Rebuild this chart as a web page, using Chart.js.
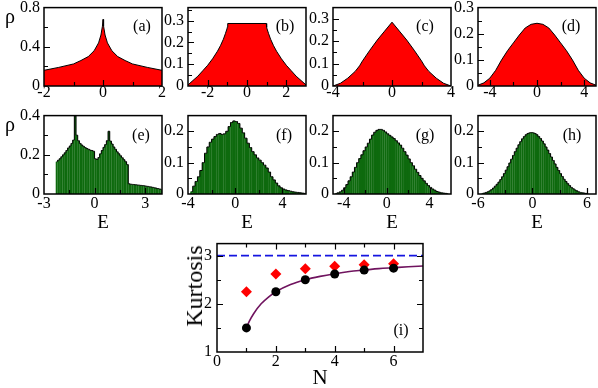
<!DOCTYPE html>
<html><head><meta charset="utf-8">
<script src="https://cdn.jsdelivr.net/npm/chart.js@4/dist/chart.umd.min.js"></script>
<style>
html,body{margin:0;padding:0;background:#fff;width:598px;height:388px;overflow:hidden;position:relative;font-family:"Liberation Serif",serif;color:#000}
.pc{position:absolute}
.t{position:absolute;transform:translate(-50%,-50%);white-space:nowrap;line-height:1;font-family:"Liberation Serif",serif}
</style></head><body>
<script>
// ---------- DATA ----------
// (a)
const aE   = [-2,-1.5,-1,-0.75,-0.5,-0.3,-0.15,-0.07,-0.02,0,0.02,0.07,0.15,0.3,0.5,0.75,1,1.5,2];
const aRho = [0.16,0.19,0.225,0.26,0.30,0.36,0.44,0.52,0.61,0.68,0.61,0.52,0.44,0.36,0.30,0.26,0.225,0.19,0.16];
// (b)
const bE   = [-3,-2.75,-2.5,-2.25,-2,-1.75,-1.5,-1.35,-1.2,-1.1,-1.02,-1.0,-0.98,0,0.98,1.0,1.02,1.1,1.2,1.35,1.5,1.75,2,2.25,2.5,2.75,3];
const bRho = [0.005,0.025,0.045,0.07,0.095,0.125,0.16,0.185,0.215,0.24,0.262,0.27,0.287,0.287,0.287,0.27,0.262,0.24,0.215,0.185,0.16,0.125,0.095,0.07,0.045,0.025,0.005];
// (c)
const cE   = [-4,-3.5,-3,-2.5,-2.2,-2,-1.5,-1,-0.5,0,0.5,1,1.5,2,2.2,2.5,3,3.5,4];
const cRho = [0,0.012,0.035,0.065,0.09,0.112,0.16,0.205,0.245,0.285,0.245,0.205,0.16,0.112,0.09,0.065,0.035,0.012,0];
// (d)
const dE   = [-5,-4.5,-4,-3.5,-3,-2.5,-2,-1.5,-1,-0.5,0,0.5,1,1.5,2,2.5,3,3.5,4,4.5,5];
const dRho = [0.003,0.012,0.03,0.06,0.1,0.135,0.165,0.195,0.222,0.236,0.24,0.236,0.222,0.195,0.165,0.135,0.1,0.06,0.03,0.012,0.003];
// (e) histogram
const eE = [-2.25,-2.15,-2.05,-1.95,-1.85,-1.75,-1.65,-1.55,-1.45,-1.35,-1.25,-1.15,-1.05,-0.95,-0.85,-0.75,-0.65,-0.55,-0.45,-0.35,-0.25,-0.15,-0.05,
  0.05,0.15,0.25,0.35,0.45,0.55,0.65,0.75,0.85,0.95,1.05,1.15,1.25,1.35,1.45,1.55,1.65,1.75,1.85,1.95,
  2.05,2.15,2.25,2.35,2.45,2.55,2.65,2.75,2.85,2.95,3.05,3.15,3.25,3.35,3.45,3.55,3.65,3.75,3.85,3.95];
const eRho = [0.165,0.172,0.18,0.19,0.2,0.21,0.222,0.235,0.245,0.258,0.275,0.4,0.3,0.272,0.258,0.25,0.243,0.237,0.232,0.228,0.224,0.222,0.218,
  0.18,0.176,0.186,0.205,0.222,0.238,0.252,0.272,0.32,0.27,0.255,0.24,0.228,0.215,0.205,0.195,0.185,0.175,0.165,0.15,
  0.052,0.05,0.049,0.048,0.047,0.046,0.045,0.044,0.043,0.042,0.04,0.039,0.037,0.036,0.034,0.032,0.03,0.028,0.026,0.024];
// (f) histogram
const fE = [-3.7,-3.5,-3.3,-3.1,-2.9,-2.7,-2.5,-2.3,-2.1,-1.9,-1.7,-1.5,-1.3,-1.1,-0.9,-0.7,-0.5,-0.3,-0.1,
  0.1,0.3,0.5,0.7,0.9,1.1,1.3,1.5,1.7,1.9,2.1,2.3,2.5,2.7,2.9,3.1,3.3,3.5,3.7,3.9,4.1,4.3,4.5,4.7,4.9,5.1,5.3,5.5,5.7,5.9];
const fRho = [0.008,0.025,0.04,0.055,0.075,0.1,0.13,0.15,0.165,0.175,0.183,0.19,0.193,0.19,0.192,0.2,0.215,0.228,0.233,
  0.231,0.225,0.21,0.195,0.178,0.162,0.148,0.135,0.125,0.115,0.108,0.1,0.092,0.083,0.07,0.055,0.045,0.035,0.026,0.02,0.016,0.013,0.011,0.009,0.007,0.006,0.005,0.004,0.003,0.002];
// (g) histogram
const gE = [-4.7,-4.5,-4.3,-4.1,-3.9,-3.7,-3.5,-3.3,-3.1,-2.9,-2.7,-2.5,-2.3,-2.1,-1.9,-1.7,-1.5,-1.3,-1.1,-0.9,-0.7,-0.5,-0.3,-0.1,
  0.1,0.3,0.5,0.7,0.9,1.1,1.3,1.5,1.7,1.9,2.1,2.3,2.5,2.7,2.9,3.1,3.3,3.5,3.7,3.9,4.1,4.3,4.5,4.7,4.9,5.1,5.3,5.5,5.7];
const gRho = [0.002,0.004,0.007,0.012,0.02,0.03,0.042,0.055,0.07,0.085,0.1,0.113,0.125,0.138,0.15,0.162,0.175,0.188,0.197,0.203,0.206,0.206,0.203,0.198,
  0.192,0.187,0.182,0.177,0.17,0.163,0.156,0.146,0.135,0.124,0.112,0.1,0.09,0.079,0.069,0.059,0.05,0.042,0.034,0.027,0.021,0.016,0.012,0.008,0.006,0.004,0.003,0.002,0.001];
// (h) histogram
const hE = [-5.5,-5.3,-5.1,-4.9,-4.7,-4.5,-4.3,-4.1,-3.9,-3.7,-3.5,-3.3,-3.1,-2.9,-2.7,-2.5,-2.3,-2.1,-1.9,-1.7,-1.5,-1.3,-1.1,-0.9,-0.7,-0.5,-0.3,-0.1,
  0.1,0.3,0.5,0.7,0.9,1.1,1.3,1.5,1.7,1.9,2.1,2.3,2.5,2.7,2.9,3.1,3.3,3.5,3.7,3.9,4.1,4.3,4.5,4.7,4.9,5.1,5.3,5.5,5.7,5.9,6.1];
const hRho = [0.002,0.003,0.005,0.007,0.01,0.014,0.019,0.025,0.031,0.038,0.046,0.055,0.065,0.076,0.087,0.099,0.111,0.123,0.135,0.146,0.157,0.167,0.176,0.183,0.189,0.193,0.195,0.196,
  0.195,0.193,0.189,0.183,0.177,0.169,0.16,0.15,0.14,0.129,0.118,0.107,0.096,0.085,0.075,0.065,0.056,0.047,0.04,0.033,0.027,0.021,0.017,0.013,0.01,0.007,0.005,0.004,0.003,0.002,0.001];
// (i) kurtosis
const iN = [1,2,3,4,5,6];
const iKurtRed = [2.25,2.62,2.73,2.78,2.81,2.83];
const iKurtBlack = [1.5,2.25,2.5,2.62,2.7,2.74];
const iFitN = [1,1.1,1.25,1.5,1.75,2,2.5,3,3.5,4,4.5,5,5.5,6,6.5,7];
const iFitK = [1.5,1.64,1.8,2.0,2.14,2.25,2.4,2.5,2.57,2.625,2.67,2.7,2.73,2.75,2.77,2.786];
const iGaussN = [0,7];
const iGaussK = [3,3];

// tick values / labels
const aXT=[-2,-1,0,1,2], aXL=[-2,0,2], aYT=[0,0.2,0.4,0.6,0.8], aYL=[0,0.4,0.8];
const bXT=[-3,-2,-1,0,1,2,3], bXL=[-2,0,2], bYT=[0,0.05,0.1,0.15,0.2,0.25,0.3,0.35], bYL=[0,0.1,0.2,0.3];
const cXT=[-4,-2,0,2,4], cXL=[-4,0,4], cYT=bYT, cYL=bYL;
const dXT=[-4,-2,0,2,4], dXL=[-4,0,4], dYT=[0,0.05,0.1,0.15,0.2,0.25,0.3], dYL=[0,0.1,0.2,0.3];
const eXT=[-3,-1.5,0,1.5,3], eXL=[-3,0,3], eYT=[0,0.1,0.2,0.3,0.4], eYL=[0,0.2,0.4];
const fXT=[-4,-2,0,2,4,6], fXL=[-4,0,4], fYT=[0,0.05,0.1,0.15,0.2,0.25], fYL=[0,0.1,0.2];
const gXT=[-4,-2,0,2,4], gXL=[-4,0,4], gYT=fYT, gYL=fYL;
const hXT=[-6,-3,0,3,6], hXL=[-6,0,6], hYT=fYT, hYL=fYL;
const iXT=[0,1,2,3,4,5,6,7], iXL=[0,2,4,6], iYT=[1,1.5,2,2.5,3], iYL=[1,2,3];

// ---------- DRAWING ----------
Chart.defaults.font.family = '"Liberation Serif", serif';
Chart.defaults.font.size = 16;
Chart.defaults.color = '#000';

const PADL=50, PADT=12, PADR=14, PADB=30;
const near=(a,b)=>Math.abs(a-b)<1e-9;

const boxTicks = {
  id:'boxTicks',
  afterDatasetsDraw(chart, args, opts){
    const {ctx, chartArea:a, scales:{x:X, y:Y}} = chart;
    ctx.save();
    ctx.strokeStyle='#000'; ctx.lineWidth=1.2;
    ctx.beginPath();
    X.ticks.forEach(t=>{
      if (near(t.value,X.min)||near(t.value,X.max)) return;
      const p=Math.round(X.getPixelForValue(t.value))+0.5;
      const len=opts.xl.some(v=>near(v,t.value))?6:4;
      ctx.moveTo(p,a.bottom); ctx.lineTo(p,a.bottom-len);
      if (opts.mirror){ ctx.moveTo(p,a.top); ctx.lineTo(p,a.top+len); }
    });
    Y.ticks.forEach(t=>{
      if (near(t.value,Y.min)||near(t.value,Y.max)) return;
      const p=Math.round(Y.getPixelForValue(t.value))+0.5;
      const len=opts.yl.some(v=>near(v,t.value))?6:4;
      ctx.moveTo(a.left,p); ctx.lineTo(a.left+len,p);
      if (opts.mirror){ ctx.moveTo(a.right,p); ctx.lineTo(a.right-len,p); }
    });
    ctx.stroke();
    ctx.lineWidth=1.5;
    ctx.strokeRect(a.left,a.top,a.right-a.left,a.bottom-a.top);
    ctx.restore();
  }
};

function axis(min,max,tv,lv,isX,pad){
  return {
    type:'linear', min, max, offset:false,
    afterBuildTicks:s=>{ s.ticks = tv.map(v=>({value:v})); },
    afterFit:s=>{ if(isX) s.height=PADB; else s.width=PADL; },
    grid:{display:false, drawTicks:false},
    border:{display:false},
    ticks:{autoSkip:false, maxRotation:0, minRotation:0, padding:pad, color:'#000',
      callback:v=> lv.some(x=>near(x,v)) ? String(v) : ''}
  };
}

function panel(box, type, datasets, xr, yr, xt, xl, yt, yl, mirror, xpad, ypad){
  const div=document.createElement('div');
  div.className='pc';
  const W=box.w+PADL+PADR, H=box.h+PADT+PADB;
  div.style.left=(box.l-PADL)+'px'; div.style.top=(box.t-PADT)+'px';
  div.style.width=W+'px'; div.style.height=H+'px';
  const cv=document.createElement('canvas'); cv.width=W; cv.height=H;
  cv.style.width=W+'px'; cv.style.height=H+'px';
  div.appendChild(cv); document.body.appendChild(div);
  new Chart(cv,{
    type, data:{datasets},
    options:{
      responsive:false, animation:false, devicePixelRatio:1,
      layout:{padding:{left:0,top:PADT,right:PADR,bottom:0}},
      plugins:{legend:{display:false}, tooltip:{enabled:false}, boxTicks:{xl, yl, mirror}},
      scales:{ x:axis(xr[0],xr[1],xt,xl,true,xpad), y:axis(yr[0],yr[1],yt,yl,false,ypad) }
    },
    plugins:[boxTicks]
  });
}

function curve(xs,ys){
  return {data:xs.map((x,i)=>({x,y:ys[i]})), showLine:true, fill:'origin',
    backgroundColor:'#ff0000', borderColor:'#000', borderWidth:1, pointRadius:0, tension:0};
}
function hist(xs,ys){
  const pts=xs.map((x,i)=>({x,y:ys[i]}));
  return [
    {type:'line', data:pts, stepped:'middle', borderColor:'#000', borderWidth:1, pointRadius:0, fill:false, order:0},
    {data:pts, backgroundColor:'#0e6a0e', borderWidth:0, barPercentage:1.1, categoryPercentage:1, order:1}
  ];
}

const L=[44,188,333,478], TW=118, R1T=6, RH=80, R2T=114;
panel({l:L[0],t:R1T,w:TW,h:RH},'scatter',[curve(aE,aRho)],[-2,2],[0,0.8],aXT,aXL,aYT,aYL,false,-3,4);
panel({l:L[1],t:R1T,w:TW,h:RH},'scatter',[curve(bE,bRho)],[-3,3],[0,0.36],bXT,bXL,bYT,bYL,false,-3,4);
panel({l:L[2],t:R1T,w:TW,h:RH},'scatter',[curve(cE,cRho)],[-4,4],[0,0.35],cXT,cXL,cYT,cYL,false,-3,4);
panel({l:L[3],t:R1T,w:TW,h:RH},'scatter',[curve(dE,dRho)],[-5,5],[0,0.3],dXT,dXL,dYT,dYL,false,-3,4);

panel({l:L[0],t:R2T,w:TW,h:RH},'bar',hist(eE,eRho),[-3,4],[0,0.4],eXT,eXL,eYT,eYL,false,0,4);
panel({l:L[1],t:R2T,w:TW,h:RH},'bar',hist(fE,fRho),[-4,6],[0,0.25],fXT,fXL,fYT,fYL,false,0,4);
panel({l:L[2],t:R2T,w:TW,h:RH},'bar',hist(gE,gRho),[-5,6],[0,0.25],gXT,gXL,gYT,gYL,false,0,4);
panel({l:L[3],t:R2T,w:TW,h:RH},'bar',hist(hE,hRho),[-6,7],[0,0.25],hXT,hXL,hYT,hYL,false,0,4);

panel({l:217,t:241,w:206,h:111},'scatter',[
  {data:iN.map((x,i)=>({x,y:iKurtBlack[i]})), pointStyle:'circle', pointRadius:4.5, backgroundColor:'#000', borderColor:'#000', borderWidth:0, order:0},
  {data:iN.map((x,i)=>({x,y:iKurtRed[i]})), pointStyle:'rectRot', pointRadius:5.5, backgroundColor:'#ff0000', borderColor:'#ff0000', borderWidth:0, order:1},
  {data:iFitN.map((x,i)=>({x,y:iFitK[i]})), showLine:true, pointRadius:0, borderColor:'#70145f', borderWidth:1.6, cubicInterpolationMode:'monotone', order:2},
  {data:iGaussN.map((x,i)=>({x,y:iGaussK[i]})), showLine:true, pointRadius:0, borderColor:'#1515e0', borderWidth:1.6, borderDash:[8,4], order:3}
],[0,7],[1,3.25],iXT,iXL,iYT,iYL,true,0,5);

// ---------- TEXT ----------
function txt(s,x,y,size,rot){
  const d=document.createElement('div'); d.className='t'; d.textContent=s;
  d.style.left=x+'px'; d.style.top=y+'px'; d.style.fontSize=size+'px';
  if(rot) d.style.transform='translate(-50%,-50%) rotate(-90deg)';
  document.body.appendChild(d);
}
txt('ρ',10,16,20); txt('ρ',10,124,20);
['E','E','E','E'].forEach((s,i)=>txt(s,L[i]+59,221,19));
txt('N',320,377,21);
txt('Kurtosis',194,286,24,true);
const labs=[['(a)',142,26],['(b)',285,26],['(c)',425,26],['(d)',571,26],['(e)',141,135],['(f)',284,135],['(g)',425,135],['(h)',572,135],['(i)',401,330]];
labs.forEach(l=>txt(l[0],l[1],l[2],16));
</script>
</body></html>
